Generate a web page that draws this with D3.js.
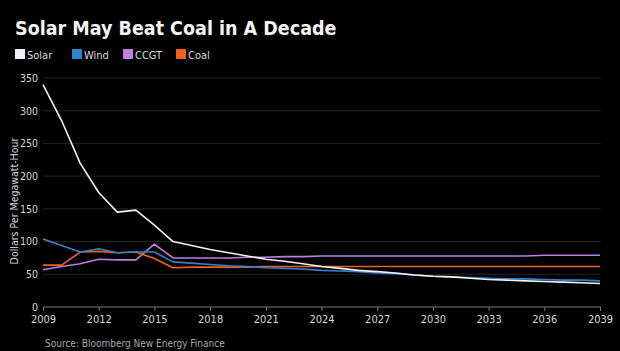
<!DOCTYPE html>
<html><head><meta charset="utf-8">
<script src="https://cdn.jsdelivr.net/npm/d3@7"></script>
<style>html,body{margin:0;padding:0;background:#000;}svg{display:block;}</style>
</head><body>
<script>
const years = d3.range(2009, 2040);
const seriesNames = ["Solar", "Wind", "CCGT", "Coal"];
const seriesColors = ["#f2f2f2", "#3382d2", "#c07ee0", "#f0621c"];
const solar = [340, 285, 220, 175, 145, 148, 125, 100, 94, 88, 83, 78, 73, 70, 66, 62, 59, 56, 54, 52, 49, 47, 46, 44, 42, 41, 40, 39, 38, 37, 36];
const wind  = [104, 94, 84, 89, 83, 84, 84, 69, 67, 65, 63, 62, 60, 59, 58, 56, 55, 54, 52, 51, 49, 47, 46, 45, 44, 43, 43, 42, 41, 41, 40];
const ccgt  = [57, 62, 66, 73, 72, 72, 96, 75, 75, 75, 75, 76, 76, 77, 77, 78, 78, 78, 78, 78, 78, 78, 78, 78, 78, 78, 78, 79, 79, 79, 79];
const coal  = [64, 64, 84, 85, 83, 84, 74, 60, 61, 61, 61, 61, 62, 62, 62, 62, 62, 62, 62, 62, 62, 62, 62, 62, 62, 62, 62, 62, 62, 62, 62];
const yTicks = [0, 50, 100, 150, 200, 250, 300, 350];
const xTicks = [2009, 2012, 2015, 2018, 2021, 2024, 2027, 2030, 2033, 2036, 2039];
const seriesValues = [solar, wind, ccgt, coal];

const W = 620, H = 351;
const svg = d3.select("body").append("svg").attr("width", W).attr("height", H);
svg.append("rect").attr("width", W).attr("height", H).attr("fill", "#000");

const x = d3.scaleLinear().domain([2009, 2039]).range([43, 600]);
const y = d3.scaleLinear().domain([0, 350]).range([307, 78]);
const tickFont = "DejaVu Sans Condensed";

svg.append("text").attr("x", 15).attr("y", 35)
  .attr("fill", "#f4f4f4").attr("font-family", "DejaVu Sans Condensed").attr("font-weight", "bold")
  .attr("font-size", 19.5).text("Solar May Beat Coal in A Decade");

const legend = svg.append("g");
const legX = [15, 72, 123, 176];
seriesNames.forEach((n, i) => {
  legend.append("rect").attr("x", legX[i]).attr("y", 49).attr("width", 10).attr("height", 10).attr("fill", seriesColors[i]);
  legend.append("text").attr("x", legX[i] + 12).attr("y", 58.5).attr("fill", "#ddd")
    .attr("font-family", tickFont).attr("font-size", 11).text(n);
});

// gridlines
svg.append("g").selectAll("line").data(yTicks.filter(d => d > 0)).join("line")
  .attr("x1", 43).attr("x2", 601).attr("y1", d => y(d)).attr("y2", d => y(d))
  .attr("stroke", "#232323").attr("stroke-width", 1);

const yAxis = svg.append("g").attr("transform", "translate(43,0)")
  .call(d3.axisLeft(y).tickValues(yTicks).tickSize(0).tickPadding(5));
yAxis.select(".domain").remove();
yAxis.selectAll("text").attr("fill", "#d8d8d8").attr("font-family", tickFont).attr("font-size", 10.5);

const xAxis = svg.append("g").attr("transform", "translate(0,307)")
  .call(d3.axisBottom(x).tickValues(xTicks).tickFormat(d3.format("d")).tickSize(4).tickPadding(4));
xAxis.select(".domain").attr("stroke", "#777").attr("d", "M43,0H601");
xAxis.selectAll(".tick line").attr("stroke", "#777");
xAxis.selectAll("text").attr("fill", "#d8d8d8").attr("font-family", tickFont).attr("font-size", 11);

svg.append("text").attr("transform", "translate(18,201) rotate(-90)").attr("text-anchor", "middle")
  .attr("fill", "#d8d8d8").attr("font-family", tickFont).attr("font-size", 10.5)
  .text("Dollars Per Megawatt-Hour");

const line = d3.line().x((d, i) => x(years[i])).y(d => y(d));
[2, 3, 1, 0].forEach(i => {
  svg.append("path").datum(seriesValues[i]).attr("d", line).attr("fill", "none")
    .attr("stroke", seriesColors[i]).attr("stroke-width", 1.6).attr("stroke-linejoin", "round");
});

svg.append("text").attr("x", 45).attr("y", 347).attr("fill", "#aaa")
  .attr("font-family", tickFont).attr("font-size", 10)
  .text("Source: Bloomberg New Energy Finance");
</script>
</body></html>
